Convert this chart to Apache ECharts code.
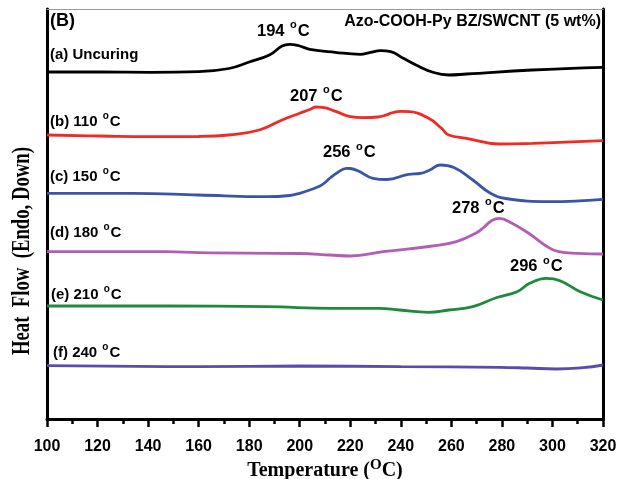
<!DOCTYPE html>
<html><head><meta charset="utf-8">
<script src="https://cdn.jsdelivr.net/npm/echarts@6/dist/echarts.min.js"></script>
<style>html,body{margin:0;padding:0;background:#fff}#c{width:620px;height:479px}</style>
</head><body><div id="c"></div>
<script>
// Temperatures (°C) and heat-flow readings (arbitrary offset units) for each curve
const tempA = [100,121,141,160,172,180,188,193,196,200,204,214,224,228,232,236,241,246,253,259,266,292,320];
const flowA = [347,347,346.7,347.3,350.5,357,364,373,374.7,373,369.7,366.7,364.7,366.7,368.3,367.3,360.7,354,346.5,344,345,349,351.7];
const tempB = [100,121,141,160,172,184,193,200,204,206.5,209,214.5,220,225,231,234,237,240,243.5,251,256,259,266,279,292,320];
const flowB = [284,283,282.3,282.5,284,289,299,305.7,309.5,312,311.7,307.3,302.3,301.3,302,303.8,306.5,307.6,307.3,300.7,291,284,280.7,275,275.7,278.3];
const tempC = [100,134,160,187,196,200,204,208,210,212,215,218.5,220,223,229,234.5,243,247.5,251.5,255.5,261,268.5,275,281.5,299,320];
const flowC = [225.7,225.7,224,222.3,223.5,225.7,229,233,236.5,241,246.5,250.7,250.5,248.3,240.7,239.5,244.7,245.5,249,254,251.5,239,226.5,220.5,217.3,219.7];
const tempD = [100,147,160,200,212,220,233,252.5,262,269.8,273,276,279,284,291,297.5,302.5,310,320];
const flowD = [167.3,167.3,166.3,165.5,164,163,167.3,173,177.3,186,192,198.5,200.7,195.7,185,173,167.3,165.7,165];
const tempE = [100,147,187,213,231.5,239.5,251,259,268.5,278,286,291,297.5,303,311,320];
const flowE = [113,113,112.3,110.7,110.7,109,106.7,109,112.3,121.5,127.3,135.7,140.7,138.3,127.3,119];
const tempF = [100,160,200,240,279,290,301.5,312,320];
const flowF = [53.3,52.3,53,52.3,51.7,51,50,51.3,54];

const curveNames = ['(a) Uncuring','(b) 110 {s|o}C','(c) 150 {s|o}C','(d) 180 {s|o}C','(e) 210 {s|o}C','(f) 240 {s|o}C'];
const peakLabels = ['194 {s|o}C','207 {s|o}C','256 {s|o}C','278 {s|o}C','296 {s|o}C'];
const sampleTitle = 'Azo-COOH-Py BZ/SWCNT (5 wt%)';
const panelTag = '(B)';
const xTitle = 'Temperature ({s|O}C)';
const yTitle = 'Heat  Flow  (Endo, Down)';

const colors = ['#000000','#ee2b24','#3a55a6','#b45db4','#1e8a3b','#5b4baf'];
const temps = [tempA,tempB,tempC,tempD,tempE,tempF];
const flows = [flowA,flowB,flowC,flowD,flowE,flowF];

const sans = '"Liberation Sans", Arial, sans-serif';
const serif = '"Liberation Serif", "Times New Roman", serif';

const series = temps.map((t,i)=>({
  type:'line', smooth:0.45, showSymbol:false, symbol:'none',
  data: t.map((x,j)=>[x, flows[i][j]]),
  lineStyle:{color:colors[i], width:2.8},
  itemStyle:{color:colors[i]}, silent:true, animation:false
}));

function txt(text, x, y, size, opts){
  opts = opts || {};
  const pad = Math.round(size*0.7);
  return {
    type:'text', x:x, y:y, silent:true,
    rotation: opts.rotation || 0, scaleX: opts.scaleX || 1, scaleY: opts.scaleY || 1,
    style:{
      text:text, fill:'#000', font:'bold '+size+'px '+(opts.family||sans),
      align: opts.align || 'left', verticalAlign:'middle',
      rich:{ s:{ fontSize: Math.round(size*0.68), fontWeight:'bold', fontFamily: opts.family||sans, padding:[0,1,pad,1], fill:'#000' } }
    }
  };
}

const curveLabelPos = [[50,55],[50,122],[50,176.5],[50,233],[51,294.5],[53,352.5]];
const peakPos = [[257,31],[290,96],[323,152.5],[452,208],[510,266.5]];

const graphics = [];
curveNames.forEach((n,i)=>graphics.push(txt(n, curveLabelPos[i][0], curveLabelPos[i][1], 15)));
peakLabels.forEach((n,i)=>graphics.push(txt(n, peakPos[i][0], peakPos[i][1], 16.5)));
graphics.push(txt(sampleTitle, 601, 22, 16, {align:'right'}));
graphics.push(txt(panelTag, 50, 21.5, 18));
graphics.push(txt(yTitle, 22, 251, 18, {family:serif, rotation:Math.PI/2, align:'center', scaleY:1.4, scaleX:1.04}));

const chart = echarts.init(document.getElementById('c'), null, {renderer:'canvas'});
chart.setOption({
  animation:false,
  backgroundColor:'#fff',
  grid:{left:47, right:17, top:9, bottom:60, containLabel:false, outerBoundsMode:'none'},
  xAxis:[{
    type:'value', min:100, max:320, interval:20, position:'bottom',
    axisLine:{show:true, onZero:false, lineStyle:{color:'#000', width:3}},
    axisTick:{show:true, length:8, lineStyle:{color:'#000', width:2.5}},
    minorTick:{show:true, splitNumber:2, length:5, lineStyle:{color:'#000', width:2.5}},
    splitLine:{show:false},
    axisLabel:{color:'#000', fontSize:16, fontWeight:'bold', fontFamily:sans, margin:20},
    name: xTitle, nameLocation:'middle', nameGap:39, nameMoveOverlap:false,
    nameTextStyle:{color:'#000', fontSize:20, fontWeight:'bold', fontFamily:serif,
      rich:{s:{fontSize:15, fontWeight:'bold', fontFamily:serif, padding:[0,0,10,0], color:'#000'}}}
  },{
    type:'value', min:100, max:320, position:'top',
    axisLine:{show:true, onZero:false, lineStyle:{color:'#9a9a9a', width:1.2}},
    axisTick:{show:false}, axisLabel:{show:false}, splitLine:{show:false}
  }],
  yAxis:[{
    type:'value', min:0, max:410, position:'left',
    axisLine:{show:true, onZero:false, lineStyle:{color:'#000', width:3}},
    axisTick:{show:false}, axisLabel:{show:false}, splitLine:{show:false}
  },{
    type:'value', min:0, max:410, position:'right',
    axisLine:{show:true, onZero:false, lineStyle:{color:'#000', width:3}},
    axisTick:{show:false}, axisLabel:{show:false}, splitLine:{show:false}
  }],
  series: series,
  graphic: graphics
});
</script></body></html>
